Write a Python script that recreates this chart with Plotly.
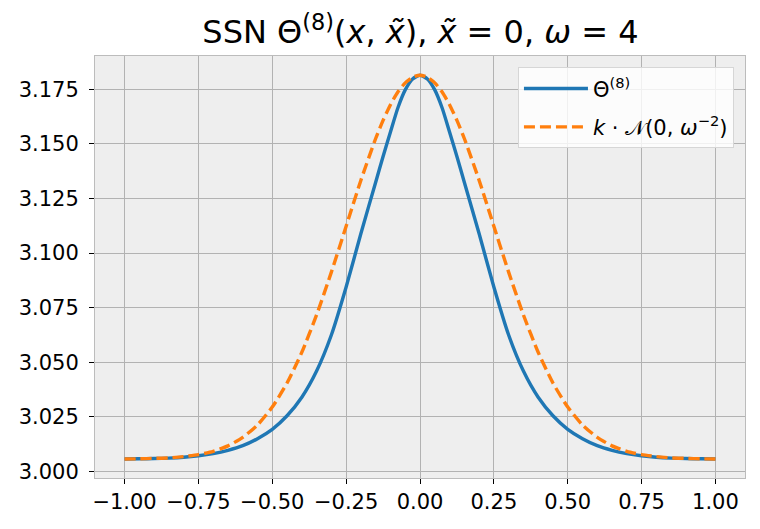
import plotly.graph_objects as go

x_vals = [-1.00, -0.95, -0.90, -0.85, -0.80, -0.75, -0.70, -0.65, -0.60, -0.55,
          -0.50, -0.45, -0.40, -0.35, -0.30, -0.25, -0.20, -0.15, -0.125, -0.10,
          -0.075, -0.05, -0.025, 0.00, 0.025, 0.05, 0.075, 0.10, 0.125, 0.15,
          0.20, 0.25, 0.30, 0.35, 0.40, 0.45, 0.50, 0.55, 0.60, 0.65,
          0.70, 0.75, 0.80, 0.85, 0.90, 0.95, 1.00]

theta8 = [3.0057, 3.0058, 3.0059, 3.0061, 3.0065, 3.0072, 3.0082, 3.0097, 3.0118, 3.0150,
          3.0193, 3.0255, 3.0340, 3.0460, 3.0625, 3.0845, 3.1090, 3.1325, 3.1443, 3.1555,
          3.1665, 3.1748, 3.1798, 3.1815, 3.1798, 3.1748, 3.1665, 3.1555, 3.1443, 3.1325,
          3.1090, 3.0845, 3.0625, 3.0460, 3.0340, 3.0255, 3.0193, 3.0150, 3.0118, 3.0097,
          3.0082, 3.0072, 3.0065, 3.0061, 3.0059, 3.0058, 3.0057]

gauss = [3.0057, 3.0058, 3.0060, 3.0062, 3.0068, 3.0077, 3.0092, 3.0117, 3.0156, 3.0213,
         3.0295, 3.0405, 3.0546, 3.0717, 3.0913, 3.1123, 3.1334, 3.1525, 3.1608, 3.1680,
         3.1738, 3.1780, 3.1806, 3.1815, 3.1806, 3.1780, 3.1738, 3.1680, 3.1608, 3.1525,
         3.1334, 3.1123, 3.0913, 3.0717, 3.0546, 3.0405, 3.0295, 3.0213, 3.0156, 3.0117,
         3.0092, 3.0077, 3.0068, 3.0062, 3.0060, 3.0058, 3.0057]

x_ticks = [-1.0, -0.75, -0.5, -0.25, 0.0, 0.25, 0.5, 0.75, 1.0]
y_ticks = [3.000, 3.025, 3.050, 3.075, 3.100, 3.125, 3.150, 3.175]

FONT = "DejaVu Sans"

fig = go.Figure()
fig.add_trace(go.Scatter(
    x=x_vals, y=theta8, mode="lines", name="Θ<sup>(8)</sup>", legendgroup="a",
    line=dict(color="#1f77b4", width=3.4, shape="spline", smoothing=0.6),
))
fig.add_trace(go.Scatter(
    x=x_vals, y=gauss, mode="lines", name="<i>k</i> · 𝒩(0, <i>ω</i><sup>−2</sup>)",
    legendgroup="b",
    line=dict(color="#ff7f0e", width=3.4, dash="11px,5px", shape="spline", smoothing=0.6),
))

axis_common = dict(
    showgrid=True, gridcolor="#b2b2b2", gridwidth=1.3,
    showline=True, linecolor="#bcbcbc", linewidth=1, mirror=True,
    ticks="outside", ticklen=5, tickcolor="#000000", tickwidth=1,
    zeroline=False, automargin=False,
    tickfont=dict(family=FONT, size=21, color="#000000"),
)

# page body keeps its default 8px margin, so the figure is a bit smaller
fig.update_layout(
    width=752, height=521,
    margin=dict(l=87, r=15, t=48, b=51),
    paper_bgcolor="white",
    plot_bgcolor="#eeeeee",
    font=dict(family=FONT, size=21, color="#000000"),
    title=dict(
        text="SSN Θ<sup>(8)</sup>(<i>x</i>, <i>x̃</i>), <i>x̃</i> = 0, <i>ω</i> = 4",
        x=0.5485, xanchor="center", y=0.9754, yanchor="top",
        font=dict(family=FONT, size=32), automargin=False,
    ),
    xaxis=dict(range=[-1.1, 1.1], tickvals=x_ticks, tickformat=".2f", **axis_common),
    yaxis=dict(range=[2.9970, 3.1903], tickvals=y_ticks, tickformat=".3f",
               ticklabelstandoff=6, **axis_common),
    legend=dict(
        x=0.983, y=0.973, xanchor="right", yanchor="top",
        bgcolor="rgba(255,255,255,0.8)", bordercolor="#d6d6d6", borderwidth=1,
        font=dict(family=FONT, size=21), tracegroupgap=8, itemwidth=64,
    ),
    showlegend=True,
)

fig.write_html("out.html")
